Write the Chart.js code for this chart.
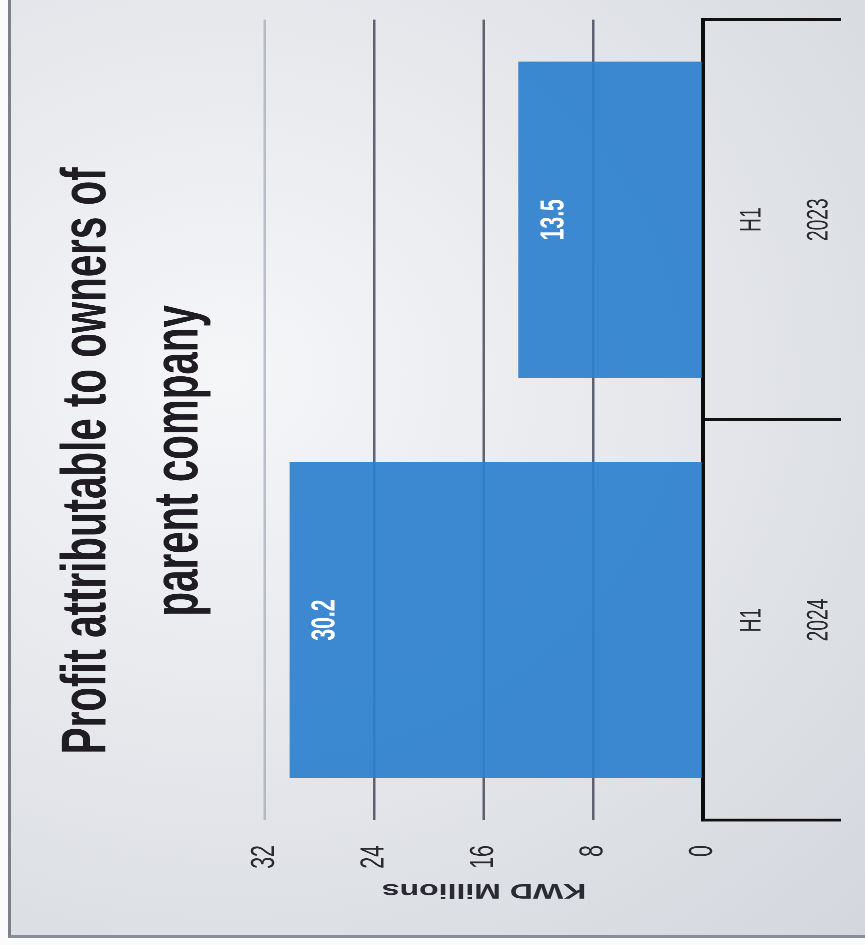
<!DOCTYPE html>
<html>
<head>
<meta charset="utf-8">
<script src="https://cdn.jsdelivr.net/npm/chart.js@4.4.1/dist/chart.umd.min.js"></script>
<style>
  html, body { margin: 0; padding: 0; background: #fbfbfc; overflow: hidden; }
  #frame {
    position: absolute; left: 8px; top: 0; width: 870px; height: 935px;
    border-left: 3px solid #7d808c; border-bottom: 3px solid #8a8d98;
    background: radial-gradient(ellipse at 25% 40%, #f5f6f8 0%, #e6e8ec 45%, #d3d6dc 100%);
  }
  /* the chart is drawn upright, then turned on its side and squeezed like the photo */
  #wrap {
    position: absolute; left: 0; top: 0; width: 1477px; height: 865px;
    transform-origin: 0 0;
    transform: translateY(945px) rotate(-90deg) scaleX(0.64);
  }
</style>
</head>
<body>
<div id="frame"></div>
<div id="wrap"><canvas id="chart" width="1477" height="865"></canvas></div>
<script>
// data
const titleLines = ["Profit attributable to owners of", "parent company"];
const categories = [["H1", "2024"], ["H1", "2023"]];
const profitValues = [30.2, 13.5];
const valueTicks = [0, 8, 16, 24, 32];
const axisTitle = "KWD Millions";

//draws the value inside the end of each bar
const barValueLabels = {
    id: "barValueLabels",
    afterDatasetsDraw(chart) {
        const ctx = chart.ctx;
        const meta = chart.getDatasetMeta(0);
        ctx.save();
        ctx.fillStyle = "#ffffff";
        ctx.font = "bold 33px 'Liberation Sans', Arial, sans-serif";
        ctx.textAlign = "center";
        ctx.textBaseline = "middle";
        meta.data.forEach((bar, i) => {
            ctx.fillText(profitValues[i].toFixed(1), bar.x, bar.y + 36);
        });
        ctx.restore();
    },
};

const canvas = document.getElementById("chart");
let myChart = new Chart(canvas, {
    type: "bar",
    plugins: [barValueLabels],
    data: {
        labels: categories,
        datasets: [
            {
                data: profitValues,
                backgroundColor: "rgba(44,128,206,0.92)",
                barPercentage: 0.79,
                categoryPercentage: 1,
            },
        ],
    },
    options: {
        responsive: false,
        devicePixelRatio: 2,
        animation: false,
        layout: { padding: { left: 67, right: 31, top: 0, bottom: 0 } },
        plugins: {
            legend: { display: false },
            tooltip: { enabled: false },
            title: {
                display: true,
                text: titleLines,
                color: "#1f1c24",
                font: { family: "'Liberation Sans', Arial, sans-serif", size: 63, weight: "bold", lineHeight: 1.46 },
                padding: { top: 42, bottom: 39 },
            },
        },
        scales: {
            x: {
                z: 1,
                afterFit: (scale) => { scale.height = 162; },
                grid: {
                    offset: true,
                    drawOnChartArea: false,
                    tickLength: 138,
                    color: "#111111",
                    lineWidth: 4.5,
                },
                border: { display: true, color: "#0c0c0c", width: 4 },
                ticks: {
                    color: "#2a2a2e",
                    padding: -122,
                    autoSkip: false,
                    maxRotation: 0,
                    font: { family: "'Liberation Sans', Arial, sans-serif", size: 30, lineHeight: 2.23 },
                },
            },
            y: {
                min: 0,
                max: 32,
                afterFit: (scale) => { scale.width = 128; },
                afterBuildTicks: (axis) => {
                    axis.ticks = valueTicks.map((v) => ({ value: v }));
                },
                grid: {
                    drawTicks: false,
                    lineWidth: 2.5,
                    color: (c) => {
                        if (c.tick.value === 0) return "rgba(0,0,0,0)";
                        if (c.tick.value === 32) return "rgba(150,155,170,0.6)";
                        return "rgba(70,74,92,0.85)";
                    },
                },
                border: { display: false },
                ticks: {
                    color: "#2a2a2e",
                    padding: 39,
                    font: { family: "'Liberation Sans', Arial, sans-serif", size: 33 },
                },
                title: {
                    display: true,
                    text: axisTitle,
                    color: "#2a2a32",
                    font: { family: "'Liberation Sans', Arial, sans-serif", size: 32, weight: "bold" },
                    padding: { top: 0, bottom: 15 },
                },
            },
        },
    },
});
</script>
</body>
</html>
